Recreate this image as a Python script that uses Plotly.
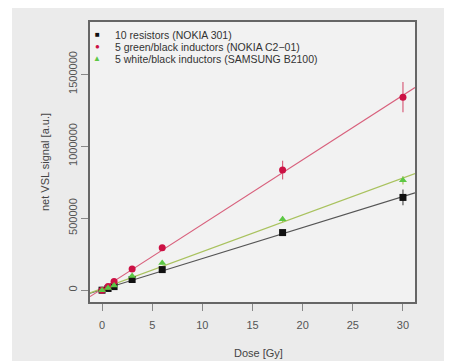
import numpy as np
import plotly.graph_objects as go

dose = [0, 0.6, 1.2, 3, 6, 18, 30]

names = ["10 resistors (NOKIA 301)",
         "5 green/black inductors (NOKIA C2\u221201)",
         "5 white/black inductors (SAMSUNG B2100)"]

resistors = [0, 12000, 25000, 74000, 143000, 400000, 644000]
resistors_err = [3000, 3000, 4000, 6000, 10000, 15000, 55000]

green_black = [0, 25000, 60000, 147000, 294000, 834000, 1340000]
green_black_err = [3000, 5000, 6000, 10000, 18000, 65000, 105000]

white_black = [0, 15000, 32000, 99000, 188000, 492000, 763000]
white_black_err = [3000, 3000, 4000, 6000, 10000, 20000, 30000]

x_ticks = [0, 5, 10, 15, 20, 25, 30]
y_ticks = [0, 500000, 1000000, 1500000]

series = [
    (names[0], resistors, resistors_err, "#111111", "#555555", "square", "\u25A0"),
    (names[1], green_black, green_black_err, "#cc1144", "#d8607c", "circle", "\u25CF"),
    (names[2], white_black, white_black_err, "#5cc844", "#a9c25e", "triangle-up", "\u25B2"),
]

X_RANGE = [-1.2, 31.2]
Y_RANGE = [-82000, 1862000]

fig = go.Figure()

# regression lines first (underneath points)
for name, vals, err, mcol, lcol, sym, glyph in series:
    k, b = np.polyfit(dose, vals, 1)
    xs = np.array(X_RANGE)
    fig.add_trace(go.Scatter(x=xs, y=k * xs + b, mode="lines",
                             line=dict(color=lcol, width=1.2),
                             showlegend=False, hoverinfo="skip"))

for name, vals, err, mcol, lcol, sym, glyph in series:
    fig.add_trace(go.Scatter(
        x=dose, y=vals, mode="markers", name=name,
        marker=dict(color=mcol, symbol=sym, size=7),
        error_y=dict(type="data", array=err, color=lcol, thickness=1.2, width=0),
        showlegend=False))

# figure sits 8px inside the page (body margin)
W, H = 444, 353
L, R, T, B = 82, 37, 12, 59
pw, ph = W - L - R, H - T - B


def px(x):
    return (x - L) / pw


def py(y):
    return (H - B - y) / ph


shapes = [dict(type="rect", xref="paper", yref="paper",
               x0=px(-2), x1=px(4), y0=py(H + 5), y1=py(-2),
               fillcolor="#ffffff", line=dict(width=0), layer="below")]

annotations = [
    dict(text="Dose [Gy]", xref="paper", yref="paper", x=px(250), y=py(345),
         showarrow=False, xanchor="center", yanchor="middle",
         font=dict(size=11, color="#444444")),
    dict(text="net VSL signal [a.u.]", xref="paper", yref="paper", x=px(37), y=py(153),
         showarrow=False, xanchor="center", yanchor="middle", textangle=-90,
         font=dict(size=11, color="#444444")),
]

# legend drawn as annotations (tight R-style spacing)
for i, (name, vals, err, mcol, lcol, sym, glyph) in enumerate(series):
    yy = 25 + 12 * i
    annotations.append(dict(text=glyph, xref="paper", yref="paper", x=px(89), y=py(yy),
                            showarrow=False, xanchor="center", yanchor="middle",
                            font=dict(size=8, color=mcol)))
    annotations.append(dict(text=name, xref="paper", yref="paper", x=px(105), y=py(yy),
                            showarrow=False, xanchor="left", yanchor="middle",
                            font=dict(size=10.5, color="#333333")))

fig.update_layout(
    width=W, height=H,
    margin=dict(l=L, r=R, t=T, b=B),
    paper_bgcolor="#ebebeb",
    plot_bgcolor="#f2f2f2",
    font=dict(family="Liberation Sans, Arial, sans-serif", color="#555555", size=11),
    showlegend=False,
    xaxis=dict(range=X_RANGE, tickvals=x_ticks, ticks="outside", ticklen=7,
               tickcolor="#888888", showgrid=False, zeroline=False,
               showline=True, mirror=True, linecolor="#666666", linewidth=1.5,
               ticklabelstandoff=5,
               tickfont=dict(size=11, color="#555555")),
    yaxis=dict(range=Y_RANGE, tickvals=y_ticks, ticktext=[str(v) for v in y_ticks],
               ticks="outside", ticklen=7, tickangle=-90,
               tickcolor="#888888", showgrid=False, zeroline=False,
               showline=True, mirror=True, linecolor="#666666", linewidth=1.5,
               tickfont=dict(size=11, color="#555555")),
    shapes=shapes,
    annotations=annotations,
)

fig.write_html("out.html")
